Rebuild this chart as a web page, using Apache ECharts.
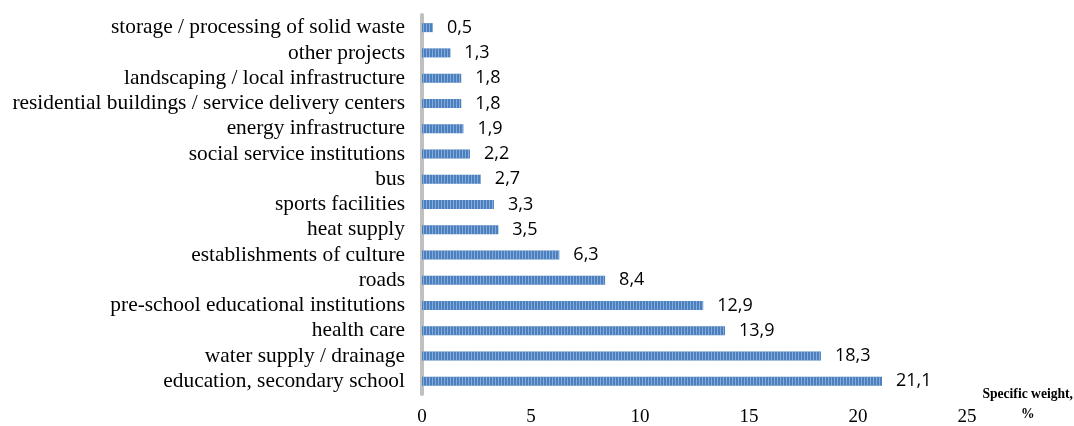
<!DOCTYPE html>
<html>
<head>
<meta charset="utf-8">
<script src="https://cdn.jsdelivr.net/npm/echarts@6/dist/echarts.min.js"></script>
<style>
  html, body { margin: 0; padding: 0; background: #fff; }
  #chart { width: 1074px; height: 426px; }
</style>
</head>
<body>
<div id="chart"></div>
<script>
// categories from bottom to top
var categories = [
  'education, secondary school',
  'water supply / drainage',
  'health care',
  'pre-school educational institutions',
  'roads',
  'establishments of culture',
  'heat supply',
  'sports facilities',
  'bus',
  'social service institutions',
  'energy infrastructure',
  'residential buildings / service delivery centers',
  'landscaping / local infrastructure',
  'other projects',
  'storage / processing of solid waste'
];
var values = [21.1, 18.3, 13.9, 12.9, 8.4, 6.3, 3.5, 3.3, 2.7, 2.2, 1.9, 1.8, 1.8, 1.3, 0.5];
var xTicks = [0, 5, 10, 15, 20, 25];

var chart = echarts.init(document.getElementById('chart'));

var serif = '"Liberation Serif", "Times New Roman", serif';

var option = {
  backgroundColor: '#fff',
  animation: false,
  grid: {
    left: 422,
    right: 107,
    top: 15,
    bottom: 32,
    containLabel: false,
    outerBoundsMode: 'none'
  },
  xAxis: {
    type: 'value',
    min: 0,
    max: 25,
    interval: 5,
    axisLine: { show: false },
    axisTick: { show: false },
    splitLine: { show: false },
    axisLabel: {
      margin: 14,
      color: '#000',
      fontFamily: serif,
      fontSize: 19,
      formatter: function (v) { return xTicks.indexOf(v) >= 0 ? String(v) : ''; }
    },
    // leading empty line pushes the two-line name down so its first line sits at the axis
    name: '\nSpecific weight,\n%',
    nameLocation: 'end',
    nameGap: 58,
    nameTextStyle: {
      color: '#000',
      fontFamily: serif,
      fontWeight: 'bold',
      fontSize: 13.6,
      align: 'center',
      verticalAlign: 'middle',
      lineHeight: 20
    }
  },
  yAxis: {
    type: 'category',
    data: categories,
    axisLine: { show: true, lineStyle: { color: '#c0c0c0', width: 4 } },
    axisTick: { show: false },
    axisLabel: {
      interval: 0,
      margin: 17,
      color: '#000',
      fontFamily: serif,
      fontSize: 21.4
    }
  },
  series: [{
    type: 'bar',
    data: values,
    barWidth: 9,
    itemStyle: {
      color: '#4c7fbe',
      decal: {
        symbol: 'rect',
        symbolSize: 1,
        color: 'rgba(170, 200, 235, 0.6)',
        dashArrayX: [1, 2],
        dashArrayY: [10, 0],
        rotation: 0
      }
    },
    label: {
      show: true,
      position: 'right',
      distance: 14,
      color: '#000',
      fontFamily: '"Open Sans", "Liberation Sans", sans-serif',
      fontSize: 18,
      formatter: function (p) { return String(p.value).replace('.', ','); }
    }
  }]
};

chart.setOption(option);
</script>
</body>
</html>
